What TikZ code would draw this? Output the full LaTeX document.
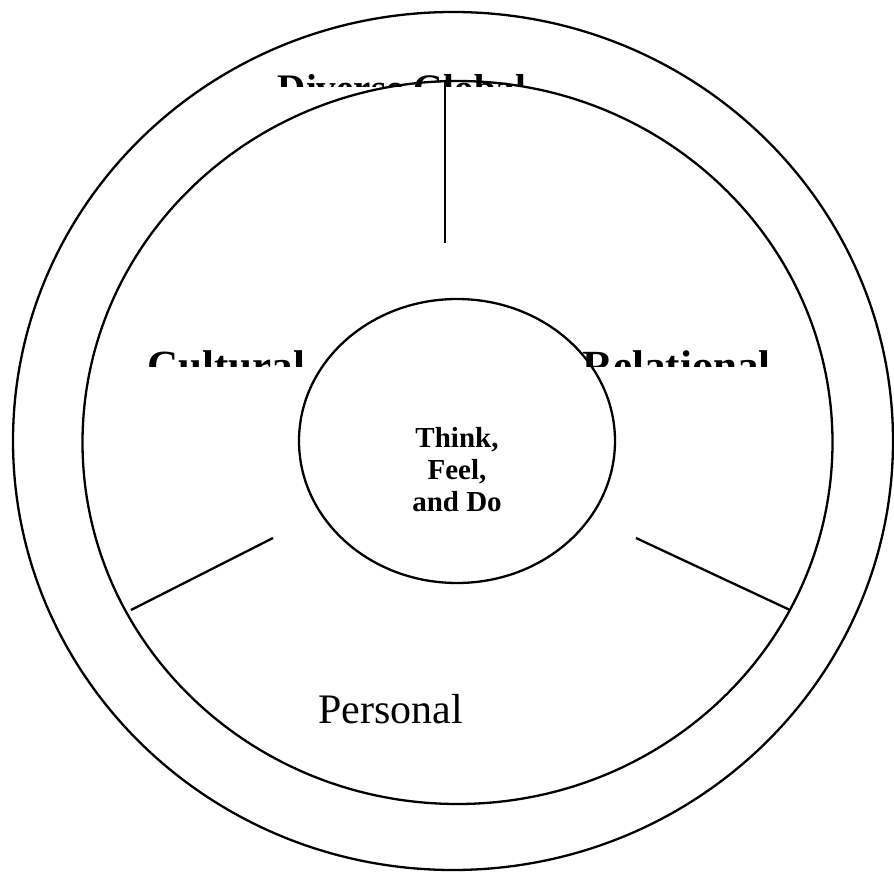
\documentclass[tikz,border=0pt]{standalone}
\usepackage{fontspec}
\setmainfont{Liberation Serif}
\begin{document}
\begin{tikzpicture}[x=1pt,y=-1pt,
  ring/.style={draw=black,line width=2.3pt},
  spoke/.style={draw=black,line width=2.3pt},
  lab/.style={font=\fontsize{43}{50}\selectfont\bfseries,inner sep=0pt,anchor=base},
  toplab/.style={font=\fontsize{39}{46}\selectfont\bfseries,inner sep=0pt,anchor=base},
  plainlab/.style={font=\fontsize{42}{50}\selectfont,inner sep=0pt,anchor=base},
  core/.style={font=\fontsize{29}{32}\selectfont\bfseries,align=center,inner sep=0pt}]
\useasboundingbox (0,0) rectangle (894,874);
\fill[white] (0,0) rectangle (894,874);
% clipped labels
\begin{scope}
  \clip (0,0) rectangle (894,87);
  \node[toplab] (global) at (402,101.5) {Diverse Global};
\end{scope}
\begin{scope}
  \clip (0,300) rectangle (894,367);
  \node[lab] (cultural) at (226.5,381) {Cultural};
  \node[lab] (relational) at (676.5,381) {Relational};
\end{scope}
\node[plainlab] (personal) at (390.5,723) {Personal};
\node[core] (tfd) at (457,470) {Think,\\Feel,\\and Do};
% rings
\draw[ring] (453,441) ellipse [x radius=440,y radius=429];
\draw[ring] (457.5,442.5) ellipse [x radius=375,y radius=361.5];
\draw[ring] (457,441) ellipse [x radius=158,y radius=142];
% spokes
\coordinate (vtop) at (445,82);
\coordinate (vbot) at (445,243);
\coordinate (lin) at (273,538);
\coordinate (lout) at (131,610);
\coordinate (rin) at (636,538);
\coordinate (rout) at (790,610);
\draw[spoke] (vtop) -- (vbot);
\draw[spoke] (lin) -- (lout);
\draw[spoke] (rin) -- (rout);
\end{tikzpicture}
\end{document}
